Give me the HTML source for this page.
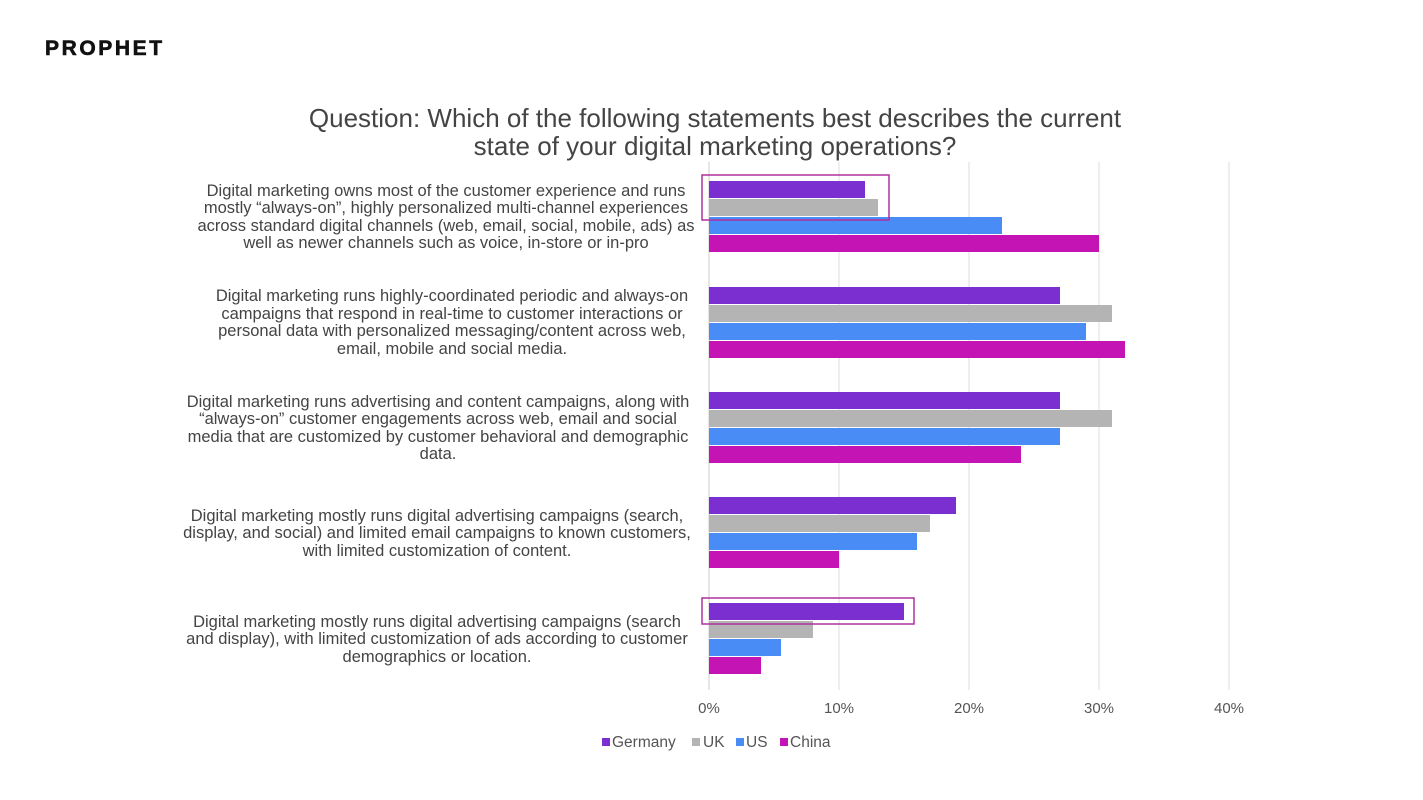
<!DOCTYPE html>
<html><head><style>
body{margin:0;background:#fff;}
svg{display:block;font-family:"Liberation Sans",sans-serif;}
</style></head><body>
<svg width="1423" height="800" viewBox="0 0 1423 800">
<text x="45" y="55" font-size="21" font-weight="bold" fill="#111" letter-spacing="2.6" stroke="#111" stroke-width="0.6">PROPHET</text>
<g font-size="26" fill="#444" text-anchor="middle">
<text x="715" y="127">Question: Which of the following statements best describes the current</text>
<text x="715" y="155">state of your digital marketing operations?</text>
</g>
<g stroke="#ddd" stroke-width="1">
<line x1="839" y1="162" x2="839" y2="690"/>
<line x1="969" y1="162" x2="969" y2="690"/>
<line x1="1099" y1="162" x2="1099" y2="690"/>
<line x1="1229" y1="162" x2="1229" y2="690"/>
<line x1="709" y1="162" x2="709" y2="690" stroke="#ccc"/>
</g>
<g>
<rect x="709" y="181" width="156" height="17" fill="#7b2fd0"/>
<rect x="709" y="199" width="169" height="17" fill="#b4b4b4"/>
<rect x="709" y="217" width="293" height="17" fill="#4a8cf5"/>
<rect x="709" y="235" width="390" height="17" fill="#c414b4"/>

<rect x="709" y="287" width="351" height="17" fill="#7b2fd0"/>
<rect x="709" y="305" width="403" height="17" fill="#b4b4b4"/>
<rect x="709" y="323" width="377" height="17" fill="#4a8cf5"/>
<rect x="709" y="341" width="416" height="17" fill="#c414b4"/>

<rect x="709" y="392" width="351" height="17" fill="#7b2fd0"/>
<rect x="709" y="410" width="403" height="17" fill="#b4b4b4"/>
<rect x="709" y="428" width="351" height="17" fill="#4a8cf5"/>
<rect x="709" y="446" width="312" height="17" fill="#c414b4"/>

<rect x="709" y="497" width="247" height="17" fill="#7b2fd0"/>
<rect x="709" y="515" width="221" height="17" fill="#b4b4b4"/>
<rect x="709" y="533" width="208" height="17" fill="#4a8cf5"/>
<rect x="709" y="551" width="130" height="17" fill="#c414b4"/>

<rect x="709" y="603" width="195" height="17" fill="#7b2fd0"/>
<rect x="709" y="621" width="104" height="17" fill="#b4b4b4"/>
<rect x="709" y="639" width="72" height="17" fill="#4a8cf5"/>
<rect x="709" y="657" width="52" height="17" fill="#c414b4"/>
</g>
<rect x="702" y="175" width="187" height="45" fill="none" stroke="#b0309f" stroke-width="1.5"/>
<rect x="702" y="598" width="212" height="26" fill="none" stroke="#b0309f" stroke-width="1.5"/>
<g font-size="16.5" fill="#444" text-anchor="middle">
<text x="446" y="196">Digital marketing owns most of the customer experience and runs</text>
<text x="446" y="213">mostly “always-on”, highly personalized multi-channel experiences</text>
<text x="446" y="231">across standard digital channels (web, email, social, mobile, ads) as</text>
<text x="446" y="248">well as newer channels such as voice, in-store or in-pro</text>
<text x="452" y="301">Digital marketing runs highly-coordinated periodic and always-on</text>
<text x="452" y="319">campaigns that respond in real-time to customer interactions or</text>
<text x="452" y="336">personal data with personalized messaging/content across web,</text>
<text x="452" y="354">email, mobile and social media.</text>
<text x="438" y="407">Digital marketing runs advertising and content campaigns, along with</text>
<text x="438" y="424">“always-on” customer engagements across web, email and social</text>
<text x="438" y="442">media that are customized by customer behavioral and demographic</text>
<text x="438" y="459">data.</text>
<text x="437" y="521">Digital marketing mostly runs digital advertising campaigns (search,</text>
<text x="437" y="538">display, and social) and limited email campaigns to known customers,</text>
<text x="437" y="556">with limited customization of content.</text>
<text x="437" y="627">Digital marketing mostly runs digital advertising campaigns (search</text>
<text x="437" y="644">and display), with limited customization of ads according to customer</text>
<text x="437" y="662">demographics or location.</text>
</g>
<g font-size="15" fill="#555" text-anchor="middle">
<text x="709" y="713">0%</text><text x="839" y="713">10%</text><text x="969" y="713">20%</text><text x="1099" y="713">30%</text><text x="1229" y="713">40%</text>
</g>
<g font-size="15.5" fill="#555">
<rect x="602" y="738" width="8" height="8" fill="#7b2fd0"/><text x="612" y="747">Germany</text>
<rect x="692" y="738" width="8" height="8" fill="#b4b4b4"/><text x="703" y="747">UK</text>
<rect x="736" y="738" width="8" height="8" fill="#4a8cf5"/><text x="746" y="747">US</text>
<rect x="780" y="738" width="8" height="8" fill="#c414b4"/><text x="790" y="747">China</text>
</g>
</svg>
</body></html>
